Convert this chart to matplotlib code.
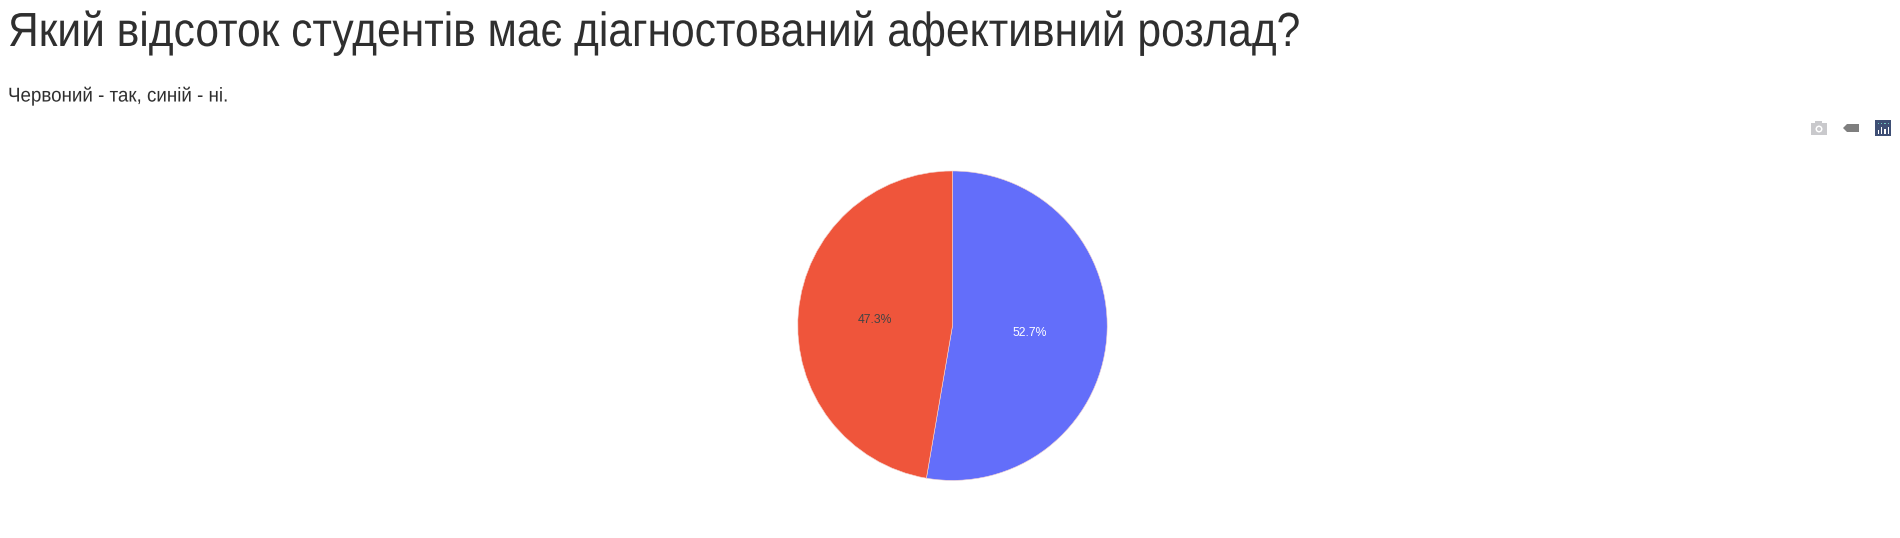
import matplotlib
matplotlib.use('Agg')
import numpy as np
import matplotlib.pyplot as plt
import matplotlib.patheffects as pe
from matplotlib.patches import Rectangle, Polygon, Circle
from matplotlib.transforms import Affine2D

plt.rcParams['font.family'] = ['Liberation Sans', 'DejaVu Sans']

# Дані
title = 'Який відсоток студентів має діагностований афективний розлад?'
subtitle = 'Червоний - так, синій - ні.'
labels = ['ні', 'так']
values = [52.7, 47.3]
colors = ['#636efa', '#ef553b']
label_colors = ['white', '#444444']

W, H = 1900, 538
fig = plt.figure(figsize=(W / 100, H / 100), dpi=100)


# Стискає текст по горизонталі, бо в оригіналі від'ємний інтервал між літерами
class SqueezeX(pe.AbstractPathEffect):
    def __init__(self, x0, sx):
        super().__init__()
        self.x0 = x0
        self.sx = sx

    def draw_path(self, renderer, gc, tpath, affine, rgbFace=None):
        squeeze = Affine2D().translate(-self.x0, 0).scale(self.sx, 1).translate(self.x0, 0)
        renderer.draw_path(gc, tpath, affine + squeeze, rgbFace)


# Заголовки
t1 = fig.text(8 / W, 1 - 33 / H, title, fontsize=34.5, color='#2f2f2f', va='center', ha='left')
t1.set_path_effects([SqueezeX(8, 0.888)])
t2 = fig.text(8 / W, 1 - 96 / H, subtitle, fontsize=14.4, color='#2f2f2f', va='center', ha='left')
t2.set_path_effects([SqueezeX(8, 0.938)])

# Кругова діаграма
cx, cy, r = 952.5, 325.7, 154.7
ax = fig.add_axes([(cx - r) / W, 1 - (cy + r) / H, 2 * r / W, 2 * r / H])
wedges, _ = ax.pie(values, colors=colors, startangle=90, counterclock=False, radius=1,
                   wedgeprops={'edgecolor': '#f4d4d0', 'linewidth': 0.4})
ax.set_xlim(-1, 1)
ax.set_ylim(-1, 1)

# Підписи відсотків
for v, w, c in zip(values, wedges, label_colors):
    ang = np.deg2rad((w.theta1 + w.theta2) / 2)
    ax.text(0.5 * np.cos(ang), 0.5 * np.sin(ang) - 0.005, f'{v}%', color=c, fontsize=8.8,
            ha='center', va='center')

# Панель інструментів plotly
bar = fig.add_axes([0, 0, 1, 1])
bar.set_xlim(0, W)
bar.set_ylim(H, 0)
bar.axis('off')
bar.patch.set_alpha(0)
bar.add_patch(Rectangle((1811, 123), 16, 12, color='#c9c9cc', lw=0))
bar.add_patch(Rectangle((1815, 121), 7, 3, color='#c9c9cc', lw=0))
bar.add_patch(Circle((1819, 129), 3.5, color='white', lw=0))
bar.add_patch(Circle((1819, 129), 2, color='#c9c9cc', lw=0))
bar.add_patch(Polygon([(1843, 128), (1847, 124), (1859, 124), (1859, 132), (1847, 132)], color='#7f7f7f', lw=0))
bar.add_patch(Rectangle((1875, 120), 16, 16, color='#3f4f75', lw=0))
for x, top in zip([1877.7, 1881, 1884.3, 1887.7], [130, 127, 129, 127]):
    bar.add_patch(Rectangle((x, top), 1.3, 134 - top, color='white', lw=0))
    bar.add_patch(Rectangle((x, 123), 1.3, 1.3, color='#6fc7c0', lw=0))

fig.savefig('out.png', dpi=100, facecolor='white')
